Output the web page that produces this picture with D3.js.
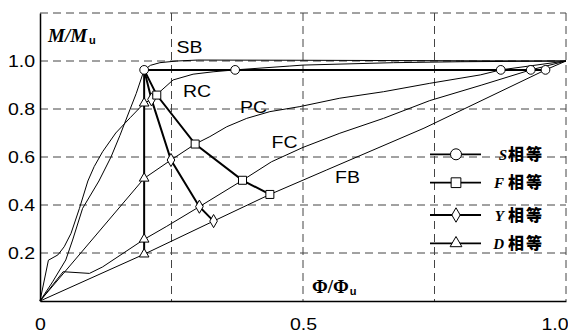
<!DOCTYPE html>
<html>
<head>
<meta charset="utf-8">
<script src="https://cdn.jsdelivr.net/npm/d3@7"></script>
<style>
  body { margin: 0; background: #fff; }
  svg { display: block; }
</style>
</head>
<body>
<div id="chart"></div>
<script>
// curves (x = Φ/Φu, y = M/Mu)
const sbCurve = [[0,0],[0.024,0.08],[0.049,0.171],[0.062,0.254],[0.081,0.386],[0.112,0.5],[0.135,0.6],[0.152,0.69],[0.167,0.775],[0.183,0.865],[0.198,0.963],[0.21,0.982],[0.228,0.993],[0.26,1.0],[0.3,1.004],[0.5,1.003],[0.8,1.001],[1,1]];
const rcCurve = [[0,0],[0.016,0.17],[0.034,0.192],[0.046,0.226],[0.059,0.282],[0.075,0.386],[0.091,0.5],[0.103,0.56],[0.119,0.622],[0.144,0.7],[0.172,0.765],[0.198,0.824],[0.212,0.84],[0.222,0.858],[0.228,0.872],[0.253,0.921],[0.291,0.945],[0.329,0.955],[0.371,0.963],[0.475,0.979],[0.5,0.983],[0.672,0.993],[0.8,0.997],[1,1]];
const pcCurve = [[0,0],[0.198,0.511],[0.249,0.5875],[0.295,0.654],[0.323,0.685],[0.355,0.726],[0.393,0.761],[0.437,0.789],[0.494,0.81],[0.57,0.845],[0.653,0.872],[0.741,0.907],[0.837,0.942],[0.876,0.963],[1,1]];
const fcCurve = [[0,0],[0.044,0.122],[0.094,0.115],[0.119,0.142],[0.198,0.257],[0.24,0.31],[0.303,0.393],[0.385,0.503],[0.44,0.58],[0.5,0.64],[0.57,0.699],[0.653,0.761],[0.741,0.835],[0.84,0.9],[0.933,0.963],[1,1]];
const fbCurve = [[0,0],[0.198,0.195],[0.33,0.333],[0.437,0.444],[0.545,0.546],[0.73,0.72],[0.961,0.963],[1,1]];

// equal-parameter series (SB, RC, PC, FC, FB)
const sEqual = [[0.198,0.963],[0.371,0.963],[0.876,0.963],[0.933,0.963],[0.961,0.963]];
const fEqual = [[0.198,0.963],[0.222,0.858],[0.295,0.654],[0.385,0.503],[0.437,0.444]];
const yEqual = [[0.198,0.963],[0.212,0.84],[0.249,0.5875],[0.303,0.393],[0.33,0.333]];
const dEqual = [[0.198,0.963],[0.198,0.824],[0.198,0.511],[0.198,0.257],[0.198,0.195]];

const curveNames = ['SB', 'RC', 'PC', 'FC', 'FB'];
const legendLetters = ['S', 'F', 'Y', 'D'];
const xTicks = [0, 0.5, 1.0];
const yTicks = [0.2, 0.4, 0.6, 0.8, 1.0];
const xGrid = [0.25, 0.5, 0.75, 1.0];
const yGrid = [0.2, 0.4, 0.6, 0.8, 1.0, 1.2];

const width = 568;
const height = 335;
const stretch = 1.22;

const svg = d3.select('#chart').append('svg')
  .attr('width', width)
  .attr('height', height);

const x = d3.scaleLinear().domain([0, 1]).range([40, 566]);
const y = d3.scaleLinear().domain([0, 1.2]).range([301, 13]);

// dashed grid
const grid = svg.append('g')
  .attr('stroke', '#444')
  .attr('stroke-width', 1)
  .attr('stroke-dasharray', '8,5');
grid.selectAll('.gx').data(xGrid).join('line')
  .attr('x1', d => x(d)).attr('x2', d => x(d))
  .attr('y1', y(1.2)).attr('y2', y(0));
grid.selectAll('.gy').data(yGrid).join('line')
  .attr('x1', x(0)).attr('x2', x(1))
  .attr('y1', d => y(d)).attr('y2', d => y(d));

// axes
const yAxis = svg.append('g')
  .attr('transform', `translate(${x(0)},0)`)
  .call(d3.axisLeft(y).tickValues(yTicks).tickSize(0).tickFormat(d3.format('.1f')));
yAxis.select('.domain').attr('stroke', '#000').attr('stroke-width', 1.5);
yAxis.selectAll('text')
  .attr('x', -5 / stretch)
  .attr('dy', '0.36em')
  .attr('transform', `scale(${stretch},1)`)
  .style('font-family', '"Liberation Sans", Arial, sans-serif')
  .style('font-size', '16px')
  .attr('fill', '#000');

const xAxis = svg.append('g')
  .attr('transform', `translate(0,${y(0)})`)
  .call(d3.axisBottom(x).tickValues(xTicks).tickSize(0)
    .tickFormat(d => d === 0 ? '0' : d3.format('.1f')(d)));
xAxis.select('.domain').attr('stroke', '#000').attr('stroke-width', 1.5);
xAxis.selectAll('text')
  .attr('y', 29)
  .attr('dy', 0)
  .attr('transform', `scale(${stretch},1)`)
  .style('font-family', '"Liberation Sans", Arial, sans-serif')
  .style('font-size', '16px')
  .attr('fill', '#000')
  .attr('text-anchor', d => d === 1 ? 'end' : 'middle')
  .attr('x', d => d === 1 ? 2 / stretch : 0);

// curves
const line = d3.line().x(d => x(d[0])).y(d => y(d[1]));
const curves = [sbCurve, rcCurve, pcCurve, fcCurve, fbCurve];
svg.append('g').selectAll('path').data(curves).join('path')
  .attr('d', line)
  .attr('fill', 'none')
  .attr('stroke', '#000')
  .attr('stroke-width', 1);

// marker shapes
const shapes = {
  S: d3.symbol().type(d3.symbolCircle).size(60),
  F: d3.symbol().type(d3.symbolSquare).size(64),
  Y: d3.symbol().type(d3.symbolDiamond).size(50),
  D: d3.symbol().type(d3.symbolTriangle).size(40)
};
const legendShapes = {
  S: d3.symbol().type(d3.symbolCircle).size(95),
  F: d3.symbol().type(d3.symbolSquare).size(95),
  Y: d3.symbol().type(d3.symbolDiamond).size(60),
  D: d3.symbol().type(d3.symbolTriangle).size(60)
};

const seriesList = [
  { key: 'D', data: dEqual },
  { key: 'Y', data: yEqual },
  { key: 'F', data: fEqual },
  { key: 'S', data: sEqual }
];

seriesList.forEach(s => {
  const g = svg.append('g');
  g.append('path')
    .datum(s.data)
    .attr('d', line)
    .attr('fill', 'none')
    .attr('stroke', '#000')
    .attr('stroke-width', 2);
  const pts = s.key === 'S' ? s.data : s.data.slice(1);
  g.selectAll('path.m').data(pts).join('path')
    .attr('class', 'm')
    .attr('d', shapes[s.key])
    .attr('transform', d => `translate(${x(d[0])},${y(d[1])})`)
    .attr('fill', '#fff')
    .attr('stroke', '#000')
    .attr('stroke-width', 1);
});

// curve labels
const labelPos = [[176.5, 53.3], [183, 97], [240, 112.7], [271.5, 148], [335, 182.5]];
svg.append('g').selectAll('text').data(curveNames).join('text')
  .attr('transform', (d, i) => `translate(${labelPos[i][0]},${labelPos[i][1]}) scale(${stretch},1)`)
  .style('font-family', '"Liberation Sans", Arial, sans-serif')
  .style('font-size', '16px')
  .attr('fill', '#000')
  .text(d => d);

// axis titles
const yTitle = svg.append('text')
  .attr('x', 48).attr('y', 41.5)
  .style('font-family', '"Liberation Serif", "Times New Roman", serif')
  .style('font-size', '19px')
  .style('font-weight', 'bold')
  .style('font-style', 'italic');
yTitle.append('tspan').text('M/M');
yTitle.append('tspan').attr('dx', 2).attr('dy', 2)
  .style('font-size', '11px').style('font-style', 'normal')
  .style('font-family', '"Liberation Sans", Arial, sans-serif')
  .text('u');

const xTitle = svg.append('text')
  .attr('x', 312).attr('y', 293)
  .style('font-family', '"Liberation Serif", "Times New Roman", serif')
  .style('font-size', '19px')
  .style('font-weight', 'bold');
xTitle.append('tspan').text('Φ/Φ');
xTitle.append('tspan').attr('dx', 1).attr('dy', 2)
  .style('font-size', '11px')
  .style('font-family', '"Liberation Sans", Arial, sans-serif')
  .text('u');

// legend
const legendY = [154.3, 182.7, 215, 243.3];
const legend = svg.append('g');
legendLetters.forEach((k, i) => {
  const ly = legendY[i];
  legend.append('line')
    .attr('x1', 430).attr('x2', 481)
    .attr('y1', ly).attr('y2', ly)
    .attr('stroke', '#000').attr('stroke-width', 1.8);
  legend.append('path')
    .attr('d', legendShapes[k])
    .attr('transform', `translate(456,${ly})`)
    .attr('fill', '#fff').attr('stroke', '#000').attr('stroke-width', 1);
  const t = legend.append('text')
    .attr('x', 544).attr('y', ly + 5.5)
    .attr('text-anchor', 'end')
    .attr('fill', '#000');
  t.append('tspan')
    .style('font-family', '"Liberation Serif", "Times New Roman", serif')
    .style('font-style', 'italic').style('font-weight', 'bold')
    .style('font-size', '15px')
    .text(k);
  t.append('tspan')
    .attr('dx', k === 'S' ? 1 : 4)
    .style('font-family', '"Noto Sans CJK SC", sans-serif')
    .style('font-weight', 900)
    .style('font-size', '16px')
    .attr('letter-spacing', 2)
    .text('相等');
});
</script>
</body>
</html>
